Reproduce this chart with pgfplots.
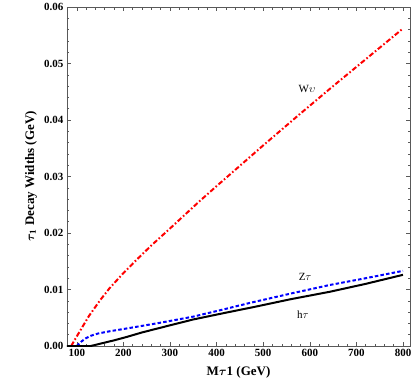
\documentclass[border=0pt]{standalone}
\usepackage{amsmath}
\usepackage{pgfplots}
\pgfplotsset{compat=1.18}
\usepackage{fontspec}
\setmainfont{Liberation Serif}
\begin{document}
\begin{tikzpicture}[x=1pt,y=1pt]
\useasboundingbox (-67pt,-40pt) rectangle (348pt,346pt);
\begin{axis}[
    at={(0,0)}, anchor=south west,
    scale only axis,
    width=343pt, height=339pt,
    xmin=79, xmax=815,
    ymin=0, ymax=0.06,
    xtick={100,200,...,800},
    ytick={0,0.01,...,0.06},
    minor x tick num=4,
    minor y tick num=4,
    tick align=inside,
    major tick length=4pt,
    minor tick length=2.5pt,
    axis line style={gray!70!black, line width=0.6pt},
    every tick/.style={gray!70!black, line width=0.5pt},
    /pgf/number format/assume math mode=true,
    yticklabel style={/pgf/number format/fixed, /pgf/number format/fixed zerofill, /pgf/number format/precision=2},
    scaled y ticks=false,
    ticklabel style={font=\fontsize{11}{12}\selectfont\bfseries},
    xlabel={\bfseries M$\boldsymbol{\tau}$1 (GeV)},
    ylabel={\bfseries $\boldsymbol{\tau}_{\mathbf 1}$ Decay Widths (GeV)},
    label style={font=\fontsize{13}{15}\selectfont\bfseries},
    xlabel style={at={(axis description cs:0.5,-0.077)}, anchor=center},
    ylabel style={at={(axis description cs:-0.105,0.5)}, anchor=center},
]
% W nu
\addplot[red, line width=2pt, dash pattern=on 5pt off 2.2pt on 1.6pt off 2.2pt] coordinates {
(88,0) (95,0.0010) (100,0.0017) (110,0.0031) (126,0.0053) (150,0.0081) (170,0.0102)
(200,0.0129) (230,0.0154) (260,0.0178) (300,0.0208) (363,0.0256) (400,0.0283)
(450,0.0319) (500,0.0355) (575,0.0408) (650,0.0460) (700,0.0494) (750,0.0528) (800,0.0562)
};
% Z tau
\addplot[blue, line width=2pt, dash pattern=on 3.5pt off 2.2pt] coordinates {
(100,0) (110,0.0008) (120,0.0014) (130,0.0018) (145,0.0022) (170,0.0026) (207,0.0031)
(278,0.0041) (350,0.0052) (421,0.0066) (470,0.0076) (560,0.0093) (643,0.0108)
(720,0.0120) (800,0.0133)
};
% h tau
\addplot[black, line width=2pt] coordinates {
(79,0) (130,0) (140,0.0002) (160,0.0006) (180,0.0010) (207,0.0016) (240,0.0024)
(278,0.0032) (350,0.0047) (420,0.0059) (480,0.0069) (560,0.0083) (643,0.0096)
(720,0.0110) (800,0.0126)
};
\node[font=\fontsize{11}{13}\selectfont] at (axis cs:594,0.0455) {W$\upsilon$};
\node[font=\fontsize{11}{13}\selectfont] at (axis cs:590,0.0122) {Z$\tau$};
\node[font=\fontsize{11}{13}\selectfont] at (axis cs:585,0.0055) {h$\tau$};
\end{axis}
\end{tikzpicture}
\end{document}
